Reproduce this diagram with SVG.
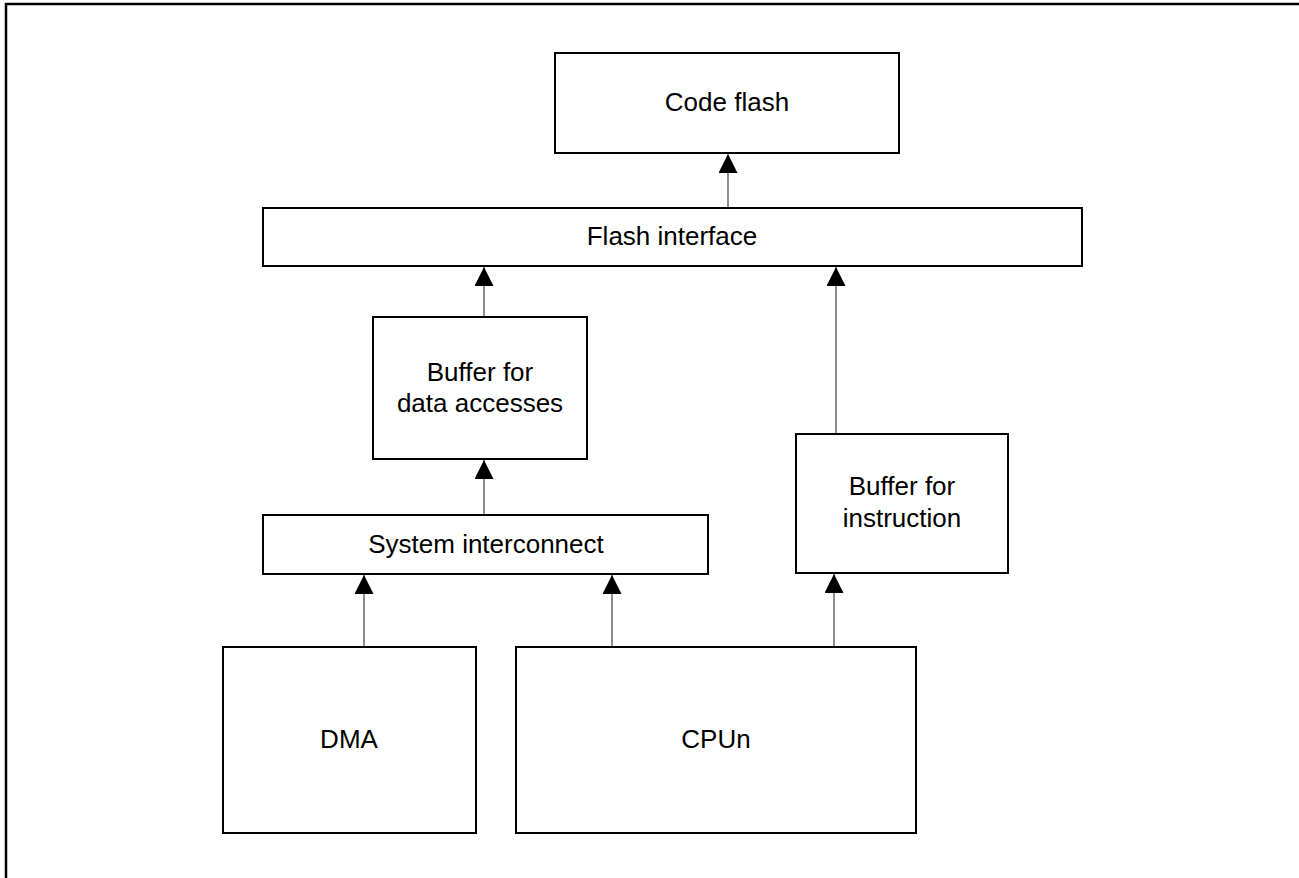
<svg xmlns="http://www.w3.org/2000/svg" width="1299" height="878" viewBox="0 0 1299 878">
<defs>
<style>
.box{fill:#fff;stroke:#000;stroke-width:2}
.lbl{font-family:"Liberation Sans",Arial,sans-serif;font-size:26px;fill:#000;text-anchor:middle}
.conn{stroke:#444;stroke-width:1.2;fill:none}
.frame{fill:none;stroke:#000;stroke-width:2.5}
</style>
<marker id="ah" viewBox="0 0 19 19" refX="19" refY="9.5" markerWidth="19" markerHeight="19" markerUnits="userSpaceOnUse" orient="auto">
<path d="M0,0 L19,9.5 L0,19 Z" fill="#000"/>
</marker>
</defs>
<rect width="1299" height="878" fill="#fff"/>
<path class="frame" d="M6,880 L6,4 L1302,4"/>
<g id="code-flash"><rect class="box" x="555" y="53" width="344" height="100"/><text class="lbl" x="727" y="111">Code flash</text></g>
<g id="flash-interface"><rect class="box" x="263" y="208" width="819" height="58"/><text class="lbl" x="672" y="245">Flash interface</text></g>
<g id="buffer-data"><rect class="box" x="373" y="317" width="214" height="142"/><text class="lbl" x="480" y="381">Buffer for</text><text class="lbl" x="480" y="412">data accesses</text></g>
<g id="system-interconnect"><rect class="box" x="263" y="515" width="445" height="59"/><text class="lbl" x="486" y="553">System interconnect</text></g>
<g id="buffer-instruction"><rect class="box" x="796" y="434" width="212" height="139"/><text class="lbl" x="902" y="495">Buffer for</text><text class="lbl" x="902" y="527">instruction</text></g>
<g id="dma"><rect class="box" x="223" y="647" width="253" height="186"/><text class="lbl" x="349" y="748">DMA</text></g>
<g id="cpun"><rect class="box" x="516" y="647" width="400" height="186"/><text class="lbl" x="716" y="748">CPUn</text></g>
<g id="connectors">
<line class="conn" x1="728" y1="207" x2="728" y2="154" marker-end="url(#ah)"/>
<line class="conn" x1="484" y1="316" x2="484" y2="267" marker-end="url(#ah)"/>
<line class="conn" x1="836" y1="433" x2="836" y2="267" marker-end="url(#ah)"/>
<line class="conn" x1="484" y1="514" x2="484" y2="460" marker-end="url(#ah)"/>
<line class="conn" x1="364" y1="646" x2="364" y2="575" marker-end="url(#ah)"/>
<line class="conn" x1="612" y1="646" x2="612" y2="575" marker-end="url(#ah)"/>
<line class="conn" x1="834" y1="646" x2="834" y2="574" marker-end="url(#ah)"/>
</g>
</svg>
